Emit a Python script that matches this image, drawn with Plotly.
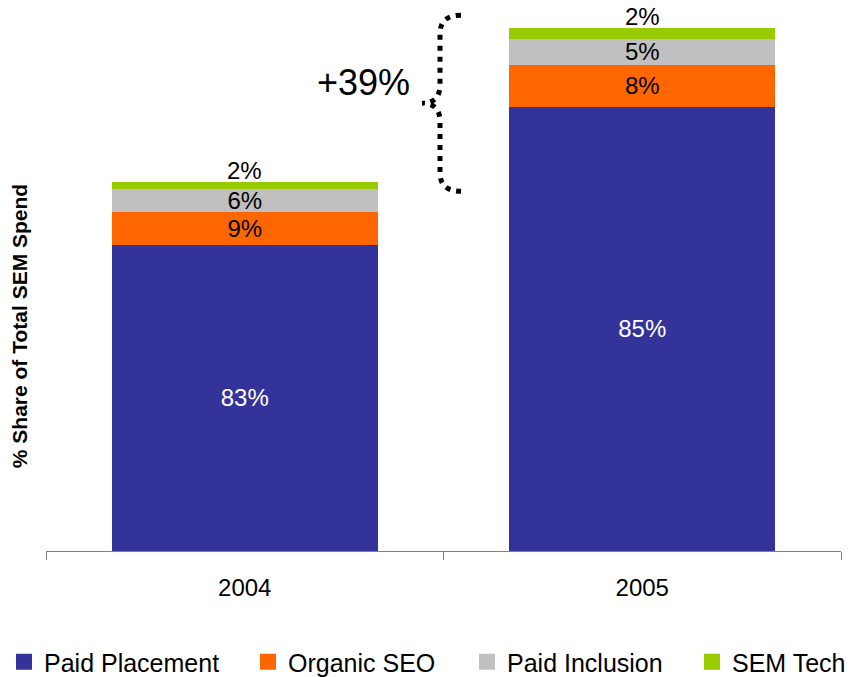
import plotly.graph_objects as go

# Share of total SEM spend by category (percent of each year's total)
years = ["2004", "2005"]
categories = ["Paid Placement", "Organic SEO", "Paid Inclusion", "SEM Tech"]
share_2004 = [83, 9, 6, 2]
share_2005 = [85, 8, 5, 2]
# Total SEM spend index (2004 = 100)
spend_index = [100, 141.7]
growth_label = "+39%"
y_title = "% Share of Total SEM Spend"

colors = ["#333399", "#FF6600", "#C0C0C0", "#99CC00"]
label_colors = ["white", "black", "black", "black"]
FONT = "Liberation Sans, Arial, sans-serif"

shares = [share_2004, share_2005]
top = len(categories) - 1

fig = go.Figure()
for i, cat in enumerate(categories):
    seg_share = [shares[j][i] for j in range(len(years))]
    seg_value = [spend_index[j] * seg_share[j] / 100 for j in range(len(years))]
    fig.add_trace(go.Bar(
        x=years,
        y=seg_value,
        name=cat,
        marker=dict(color=colors[i], line=dict(width=0)),
        text=[f"{s}%" for s in seg_share],
        textposition="none" if i == top else "inside",
        insidetextanchor="middle",
        constraintext="none",
        textfont=dict(family=FONT, size=24, color=label_colors[i]),
        showlegend=False,
        hoverinfo="skip",
    ))

# Legend entries with larger square swatches, one legend per entry
legend_x_px = [4, 248, 467, 692]
for i, cat in enumerate(categories):
    lg = "legend" if i == 0 else f"legend{i + 1}"
    fig.add_trace(go.Scatter(
        x=[None], y=[None], mode="markers", name=cat,
        marker=dict(symbol="square", size=17, color=colors[i]),
        legend=lg, showlegend=True, hoverinfo="skip",
    ))

legend_common = dict(
    orientation="h", xref="container", yref="container",
    yanchor="middle", xanchor="left", y=1 - 662 / 677,
    font=dict(family=FONT, size=25, color="black"),
    bgcolor="rgba(0,0,0,0)", borderwidth=0, itemwidth=30,
)
legends = {}
for i in range(len(categories)):
    key = "legend" if i == 0 else f"legend{i + 1}"
    legends[key] = dict(legend_common, x=legend_x_px[i] / 857)

# Labels for the thin top segment sit just above each stack
# (x given as category index so numeric-looking year names stay categories)
top_labels = [
    dict(text=f"{shares[j][top]}%", x=j, y=spend_index[j],
         xref="x", yref="y", yanchor="bottom", yshift=-4, showarrow=False,
         font=dict(family=FONT, size=24, color="black"))
    for j in range(len(years))
]

# Curly brace spanning the difference between the two totals
y_top = spend_index[1] + 3.5
y_bot = spend_index[0] - 2.5
y_mid = (y_top + y_bot) / 2
x_line, x_end, x_tip = 0.4956, 0.522, 0.473
r = 5
brace = (
    f"M {x_end},{y_top} Q {x_line},{y_top} {x_line},{y_top - r} "
    f"L {x_line},{y_mid + r} Q {x_line},{y_mid} {x_tip},{y_mid} "
    f"Q {x_line},{y_mid} {x_line},{y_mid - r} "
    f"L {x_line},{y_bot + r} Q {x_line},{y_bot} {x_end},{y_bot}"
)

annotations = top_labels + [
    dict(text=growth_label, xref="paper", yref="y",
         x=0.399, y=y_mid + 5.5, showarrow=False,
         font=dict(family=FONT, size=36, color="black")),
    dict(text=f"<b>{y_title}</b>", xref="paper", yref="paper",
         x=-0.034, y=0.408, textangle=-90, showarrow=False,
         xanchor="center", yanchor="middle",
         font=dict(family=FONT, size=21, color="black")),
]

fig.update_layout(
    barmode="stack",
    bargap=0.33,
    width=857, height=677,
    margin=dict(l=46, r=16, t=0, b=126),
    paper_bgcolor="white", plot_bgcolor="white",
    font=dict(family=FONT, color="black"),
    shapes=[dict(
        type="path", path=brace, xref="paper", yref="y",
        line=dict(color="black", width=5, dash="5px,6px"),
        layer="above",
    )],
    annotations=annotations,
    **legends,
)

fig.update_xaxes(
    type="category",
    categoryorder="array", categoryarray=years,
    range=[-0.5, len(years) - 0.5],
    showline=True, linecolor="#808080", linewidth=1,
    ticks="outside", tickson="boundaries", ticklen=8, tickcolor="#808080",
    ticklabelstandoff=15,
    tickfont=dict(family=FONT, size=24, color="black"),
    showgrid=False, zeroline=False,
)
fig.update_yaxes(
    range=[0, 551 / 3.69],
    showticklabels=False, showline=False, showgrid=False, zeroline=False,
    ticks="",
)

fig.write_html("out.html")
